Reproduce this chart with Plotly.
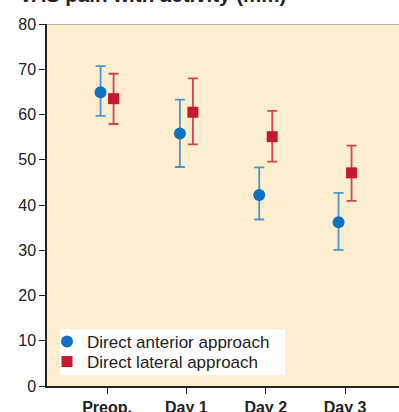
import plotly.graph_objects as go

categories = ["Preop.", "Day 1", "Day 2", "Day 3"]
anterior_mean = [64.9, 55.8, 42.2, 36.2]
anterior_upper = [70.7, 63.3, 48.3, 42.7]
anterior_lower = [59.7, 48.4, 36.8, 30.1]
lateral_mean = [63.5, 60.5, 55.1, 47.1]
lateral_upper = [69.0, 68.0, 60.8, 53.1]
lateral_lower = [57.9, 53.4, 49.6, 40.9]
y_ticks = [0, 10, 20, 30, 40, 50, 60, 70, 80]

offset = 0.082
xi = list(range(len(categories)))

fig = go.Figure()
fig.add_trace(go.Scatter(
    x=[i - offset for i in xi], y=anterior_mean, mode="markers",
    name="Direct anterior approach", legend="legend",
    marker=dict(symbol="circle", size=12, color="#1170BF"),
    error_y=dict(type="data", symmetric=False,
                 array=[u - m for u, m in zip(anterior_upper, anterior_mean)],
                 arrayminus=[m - l for m, l in zip(anterior_mean, anterior_lower)],
                 color="#4A95CF", thickness=1.8, width=5),
))
fig.add_trace(go.Scatter(
    x=[i + offset for i in xi], y=lateral_mean, mode="markers",
    name="Direct lateral approach", legend="legend2",
    marker=dict(symbol="square", size=11, color="#C21B30"),
    error_y=dict(type="data", symmetric=False,
                 array=[u - m for u, m in zip(lateral_upper, lateral_mean)],
                 arrayminus=[m - l for m, l in zip(lateral_mean, lateral_lower)],
                 color="#D24654", thickness=1.8, width=5),
))

fig.add_shape(type="line", xref="paper", yref="y", x0=0, x1=1, y0=80, y1=80,
              line=dict(color="#A0A0A0", width=1.5), layer="above")
fig.add_shape(type="rect", xref="paper", yref="paper", x0=0.037, x1=0.676, y0=0.030, y1=0.157,
              fillcolor="white", line=dict(width=0), layer="below")

fig.add_annotation(text="<b>VAS pain with activity (mm)</b>", xref="paper", yref="paper",
                   x=-0.085, y=1 + 16 / 362, xanchor="left", yanchor="bottom",
                   showarrow=False, font=dict(size=20.5, color="#222222"))

leg_common = dict(x=0.0, xanchor="left", yanchor="middle", bgcolor="rgba(0,0,0,0)",
                  font=dict(size=17, color="#222222"), itemwidth=30)

fig.update_layout(
    width=399, height=412,
    margin=dict(l=47, r=0, t=24, b=26),
    paper_bgcolor="white", plot_bgcolor="#FDEECF",
    font=dict(family="Liberation Sans, Arial, sans-serif", size=16, color="#222222"),
    showlegend=True,
    legend=dict(y=(386 - 342) / 362, **leg_common),
    legend2=dict(y=(386 - 362) / 362, **leg_common),
    xaxis=dict(range=[-0.757, 3.68], tickvals=xi, ticktext=["<b>%s</b>" % c for c in categories],
               showgrid=False, zeroline=False, showline=True, linecolor="#222222", linewidth=1.5,
               ticks="outside", ticklen=6, tickcolor="#222222", tickfont=dict(size=16),
               automargin=False),
    yaxis=dict(range=[0, 80], tickvals=y_ticks, showgrid=False, zeroline=False,
               showline=True, linecolor="#222222", linewidth=1.5,
               ticks="outside", ticklen=6, tickcolor="#222222", tickfont=dict(size=16),
               automargin=False),
)

fig.write_html("out.html", config={"displayModeBar": False},
               post_script="document.body.style.margin='0px';document.body.style.overflow='hidden';")
